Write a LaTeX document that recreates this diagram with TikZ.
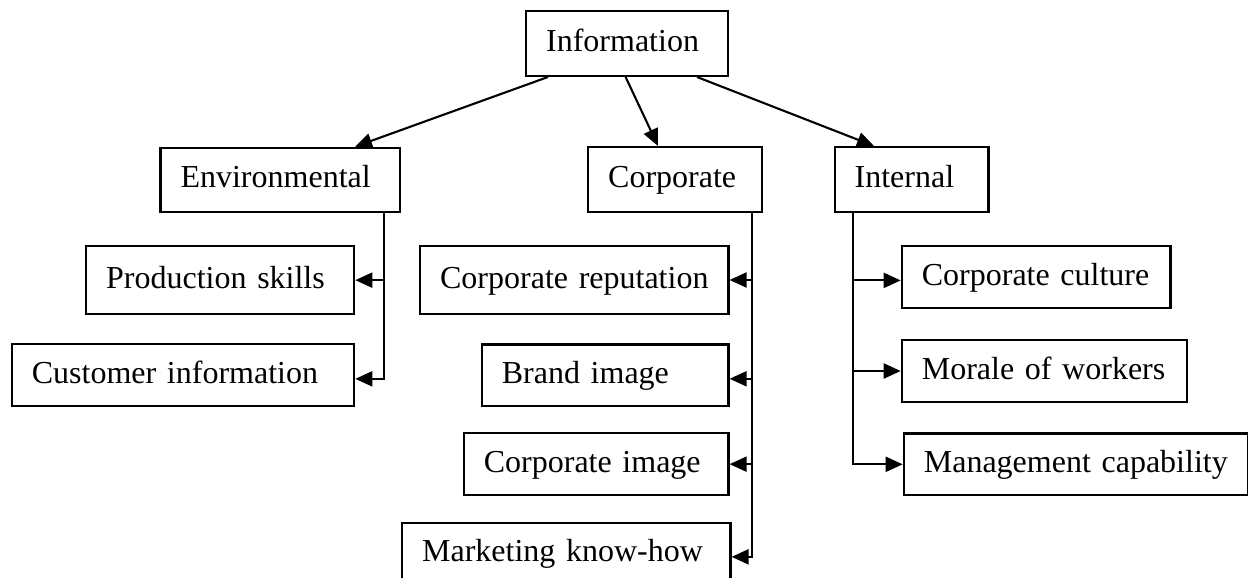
\documentclass[tikz,border=0pt]{standalone}
\usepackage{fontspec}
\setmainfont{Liberation Serif}
\usetikzlibrary{arrows.meta,calc}
\begin{document}
\begin{tikzpicture}[x=1pt,y=-1pt,
  box/.style={draw, line width=2.3pt, anchor=north west, inner xsep=20pt, inner ysep=0pt,
    align=left, text height=24pt, text depth=8pt, font=\fontsize{32}{38}\selectfont},
  arr/.style={line width=2.1pt, -{Triangle[length=17pt,width=15pt]}}]
\useasboundingbox (0,0) rectangle (1248,578);
% top
\node[box, text width=162pt, minimum height=64.7pt] (info) at (525,10) {\mbox{Information}};
% second level
\node[box, text width=199.3pt, minimum height=64pt] (env) at (159.4,146.7) {\mbox{Environmental}};
\node[box, text width=134pt, minimum height=64.7pt] (corp) at (587,146) {\mbox{Corporate}};
\node[box, text width=113.8pt, minimum height=64.7pt] (intl) at (833.5,146) {\mbox{Internal}};
% environmental children
\node[box, text width=228pt, minimum height=68pt] (prod) at (85,245) {\mbox{Production skills}};
\node[box, text width=302.3pt, minimum height=62pt] (cust) at (10.7,343) {\mbox{Customer information}};
% corporate children
\node[box, text width=268.3pt, minimum height=67.7pt] (crep) at (419,245) {\mbox{Corporate reputation}};
\node[box, text width=206.6pt, minimum height=61.7pt] (brand) at (480.7,343.3) {\mbox{Brand image}};
\node[box, text width=224.6pt, minimum height=62pt] (cimg) at (462.7,432) {\mbox{Corporate image}};
\node[box, text width=288.3pt, minimum height=62pt] (mkt) at (401,521.7) {\mbox{Marketing know-how}};
% internal children
\node[box, text width=228.6pt, minimum height=61.7pt] (cult) at (900.7,245) {\mbox{Corporate culture}};
\node[box, text width=245pt, minimum height=61.7pt] (mor) at (900.7,339) {\mbox{Morale of workers}};
\node[box, text width=304pt, minimum height=61.7pt] (mgmt) at (902.7,432.3) {\mbox{Management capability}};
% top arrows
\draw[arr] ($(info.south west)+(23,0)$) -- ($(env.north west)+(195.6,0)$);
\draw[arr] ($(info.south west)+(100.6,0)$) -- ($(corp.north west)+(71,0)$);
\draw[arr] ($(info.south west)+(172,0)$) -- ($(intl.north west)+(40.5,0)$);
% environmental trunk
\coordinate (et) at ($(env.south east)+(-17,0)$);
\coordinate (cue0) at ($(cust.east)+(0,3.7)$);
\draw[arr] (et) |- (cue0);
\draw[arr] (et |- prod.east) -- (prod.east);
% corporate trunk
\coordinate (ct) at ($(corp.south east)+(-11.7,0)$);
\coordinate (mke) at ($(mkt.east)+(0,3)$);
\coordinate (bre) at ($(brand.east)+(0,3.5)$);
\draw[arr] (ct) |- (mke);
\draw[arr] (ct |- crep.east) -- (crep.east);
\draw[arr] (ct |- bre) -- (bre);
\draw[arr] (ct |- cimg.east) -- (cimg.east);
% internal trunk
\coordinate (it) at ($(intl.south west)+(19.5,0)$);
\coordinate (cuw) at ($(cult.west)+(0,3.4)$);
\draw[arr] (it) |- (mgmt.west);
\draw[arr] (it |- cuw) -- (cuw);
\draw[arr] (it |- mor.west) -- (mor.west);
\end{tikzpicture}
\end{document}
